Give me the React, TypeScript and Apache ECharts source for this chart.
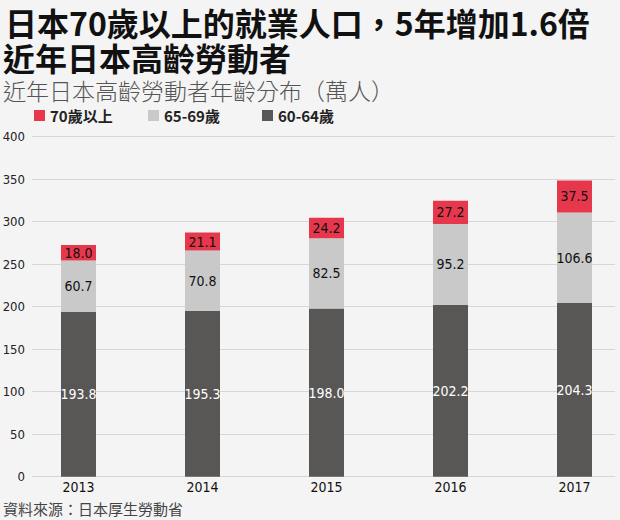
import React, { useEffect, useRef } from "react";
import * as echarts from "echarts";

const years = ["2013", "2014", "2015", "2016", "2017"];
const age6064 = [193.8, 195.3, 198.0, 202.2, 204.3];
const age6569 = [60.7, 70.8, 82.5, 95.2, 106.6];
const age70 = [18.0, 21.1, 24.2, 27.2, 37.5];
const seriesNames = ["70歲以上", "65-69歲", "60-64歲"];
const colors = { red: "#e6374d", light: "#c9c9c9", dark: "#585755" };

const titleLine1 = "日本70歲以上的就業人口，5年增加1.6倍";
const titleLine2 = "近年日本高齡勞動者";
const subtitle = "近年日本高齡勞動者年齡分布（萬人）";
const source = "資料來源：日本厚生勞動省";

const NARROW = "'DejaVu Sans Condensed', 'Liberation Sans Narrow', Roboto, sans-serif";
const CJK = "'Noto Sans CJK TC', 'Noto Sans CJK SC', sans-serif";

export default function App() {
  const ref = useRef<HTMLDivElement>(null);
  useEffect(() => {
    if (!ref.current) return;
    const chart = echarts.init(ref.current, null, { renderer: "svg" });
    const gridTop = 136.7;
    const gridBottom = 520 - 476.7;
    const label = (color: string) => ({
      show: true,
      position: "inside",
      color,
      fontSize: 14,
      fontFamily: NARROW,
      formatter: (p: any) => Number(p.value).toFixed(1),
    });
    const legendCommon = {
      top: 108,
      padding: 0,
      icon: "rect",
      itemWidth: 11,
      itemHeight: 11,
      textStyle: { fontSize: 15, fontWeight: "bold", color: "#222", fontFamily: CJK },
      selectedMode: false,
    };
    chart.setOption({
      animation: false,
      backgroundColor: "#f4f4f4",
      textStyle: { fontFamily: CJK },
      graphic: [
        {
          type: "text",
          x: 5,
          y: 22,
          style: { text: titleLine1, fill: "#111", font: `bold 32px ${CJK}`, verticalAlign: "middle" },
        },
        {
          type: "text",
          x: 3,
          y: 57,
          style: { text: titleLine2, fill: "#111", font: `bold 32px ${CJK}`, verticalAlign: "middle" },
        },
        {
          type: "text",
          x: 3,
          y: 90,
          style: { text: subtitle, fill: "#555", font: `300 23px ${CJK}`, verticalAlign: "middle" },
        },
        {
          type: "text",
          x: 3,
          y: 508,
          style: { text: source, fill: "#444", font: `15px ${CJK}`, verticalAlign: "middle" },
        },
      ],
      legend: [
        { ...legendCommon, left: 34, data: [seriesNames[0]] },
        { ...legendCommon, left: 148, data: [seriesNames[1]] },
        { ...legendCommon, left: 262, data: [seriesNames[2]] },
      ],
      grid: [
        { left: 78.5, right: 620 - 574.5, top: gridTop, bottom: gridBottom, outerBoundsMode: "none" },
        { left: 32, right: 5, top: gridTop, bottom: gridBottom, outerBoundsMode: "none" },
      ],
      xAxis: [
        {
          type: "category",
          gridIndex: 0,
          data: years,
          boundaryGap: false,
          axisLine: { show: false },
          axisTick: { show: false },
          splitLine: { show: false },
          axisLabel: { margin: 3, fontSize: 14, color: "#111", fontFamily: NARROW },
        },
        { type: "value", gridIndex: 1, min: 0, max: 1, show: false },
      ],
      yAxis: [
        { type: "value", gridIndex: 0, min: 0, max: 400, show: false },
        {
          type: "value",
          gridIndex: 1,
          min: 0,
          max: 400,
          interval: 50,
          axisLine: { show: false },
          axisTick: { show: false },
          axisLabel: { margin: 7, fontSize: 13, color: "#222", fontFamily: NARROW },
          splitLine: { show: true, lineStyle: { color: "#d6d6d6", width: 1 } },
        },
      ],
      series: [
        {
          name: seriesNames[2],
          type: "bar",
          stack: "total",
          xAxisIndex: 0,
          yAxisIndex: 0,
          barWidth: 35,
          clip: false,
          data: age6064,
          itemStyle: { color: colors.dark },
          label: label("#ffffff"),
        },
        {
          name: seriesNames[1],
          type: "bar",
          stack: "total",
          xAxisIndex: 0,
          yAxisIndex: 0,
          barWidth: 35,
          clip: false,
          data: age6569,
          itemStyle: { color: colors.light },
          label: label("#111111"),
        },
        {
          name: seriesNames[0],
          type: "bar",
          stack: "total",
          xAxisIndex: 0,
          yAxisIndex: 0,
          barWidth: 35,
          clip: false,
          data: age70,
          itemStyle: { color: colors.red },
          label: label("#111111"),
        },
      ],
    });
    return () => chart.dispose();
  }, []);
  return (
    <div
      ref={ref}
      style={{ position: "fixed", left: 0, top: 0, width: 620, height: 520, background: "#f4f4f4" }}
    />
  );
}
